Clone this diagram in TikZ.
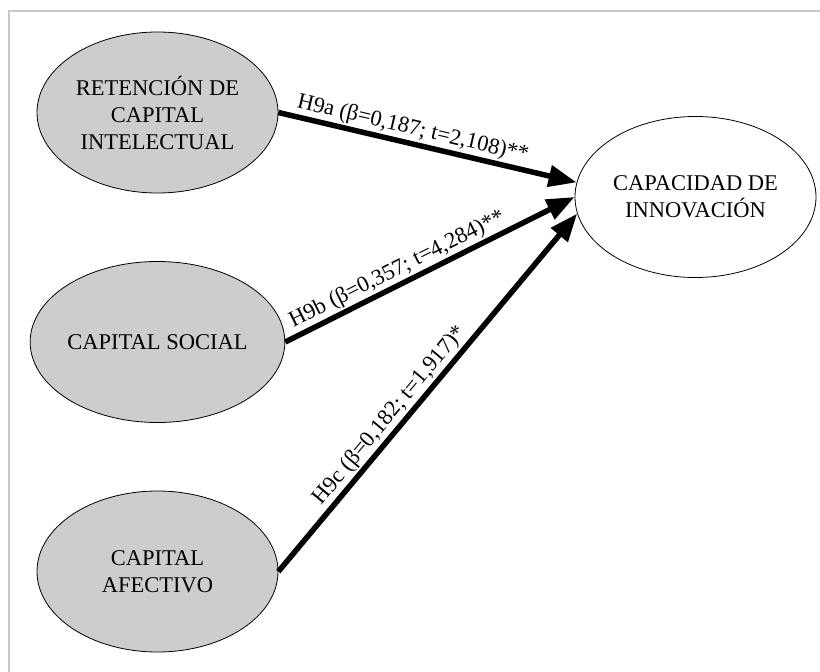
\documentclass[tikz,border=0pt]{standalone}
\usepackage{fontspec}
\setmainfont{Liberation Serif}
\usetikzlibrary{arrows.meta,shapes.geometric}
\definecolor{ellfill}{HTML}{CDCDCD}
\definecolor{framegray}{HTML}{C8C8C8}
\tikzset{
  var/.style={ellipse, draw=black, line width=0.8pt, minimum width=241pt, minimum height=161pt,
    inner sep=0pt, align=center, font=\fontsize{22.5}{27}\selectfont},
  latent/.style={var, fill=ellfill},
  path/.style={line width=5.5pt, -{Triangle[length=28pt,width=21pt]}},
  lbl/.style={sloped, above, inner sep=1.5pt, font=\fontsize{22.5}{24}\selectfont}
}
\begin{document}
\begin{tikzpicture}[x=1pt,y=-1pt]
\useasboundingbox (0,0) rectangle (820,672);
\draw[framegray, line width=1.5pt] (9,11) rectangle (840,700);
\node[latent] (e1) at (157.5,112.5) {RETENCIÓN DE\\CAPITAL\\INTELECTUAL};
\node[latent] (e2) at (157.5,342) {CAPITAL SOCIAL};
\node[latent] (e3) at (157.5,571.5) {CAPITAL\\AFECTIVO};
\node[var] (e4) at (695.5,197) {CAPACIDAD DE\\INNOVACIÓN};
\draw[path] (e1.east) -- node[lbl, pos=0.44] {H9a (β=0,187; t=2,108)**} (e4.173);
\draw[path] (e2.east) -- node[lbl, pos=0.41] {H9b (β=0,357; t=4,284)**} (e4.180);
\draw[path] (e3.east) -- node[lbl, pos=0.41] {H9c (β=0,182; t=1,917)*} (e4.188);
\end{tikzpicture}
\end{document}
